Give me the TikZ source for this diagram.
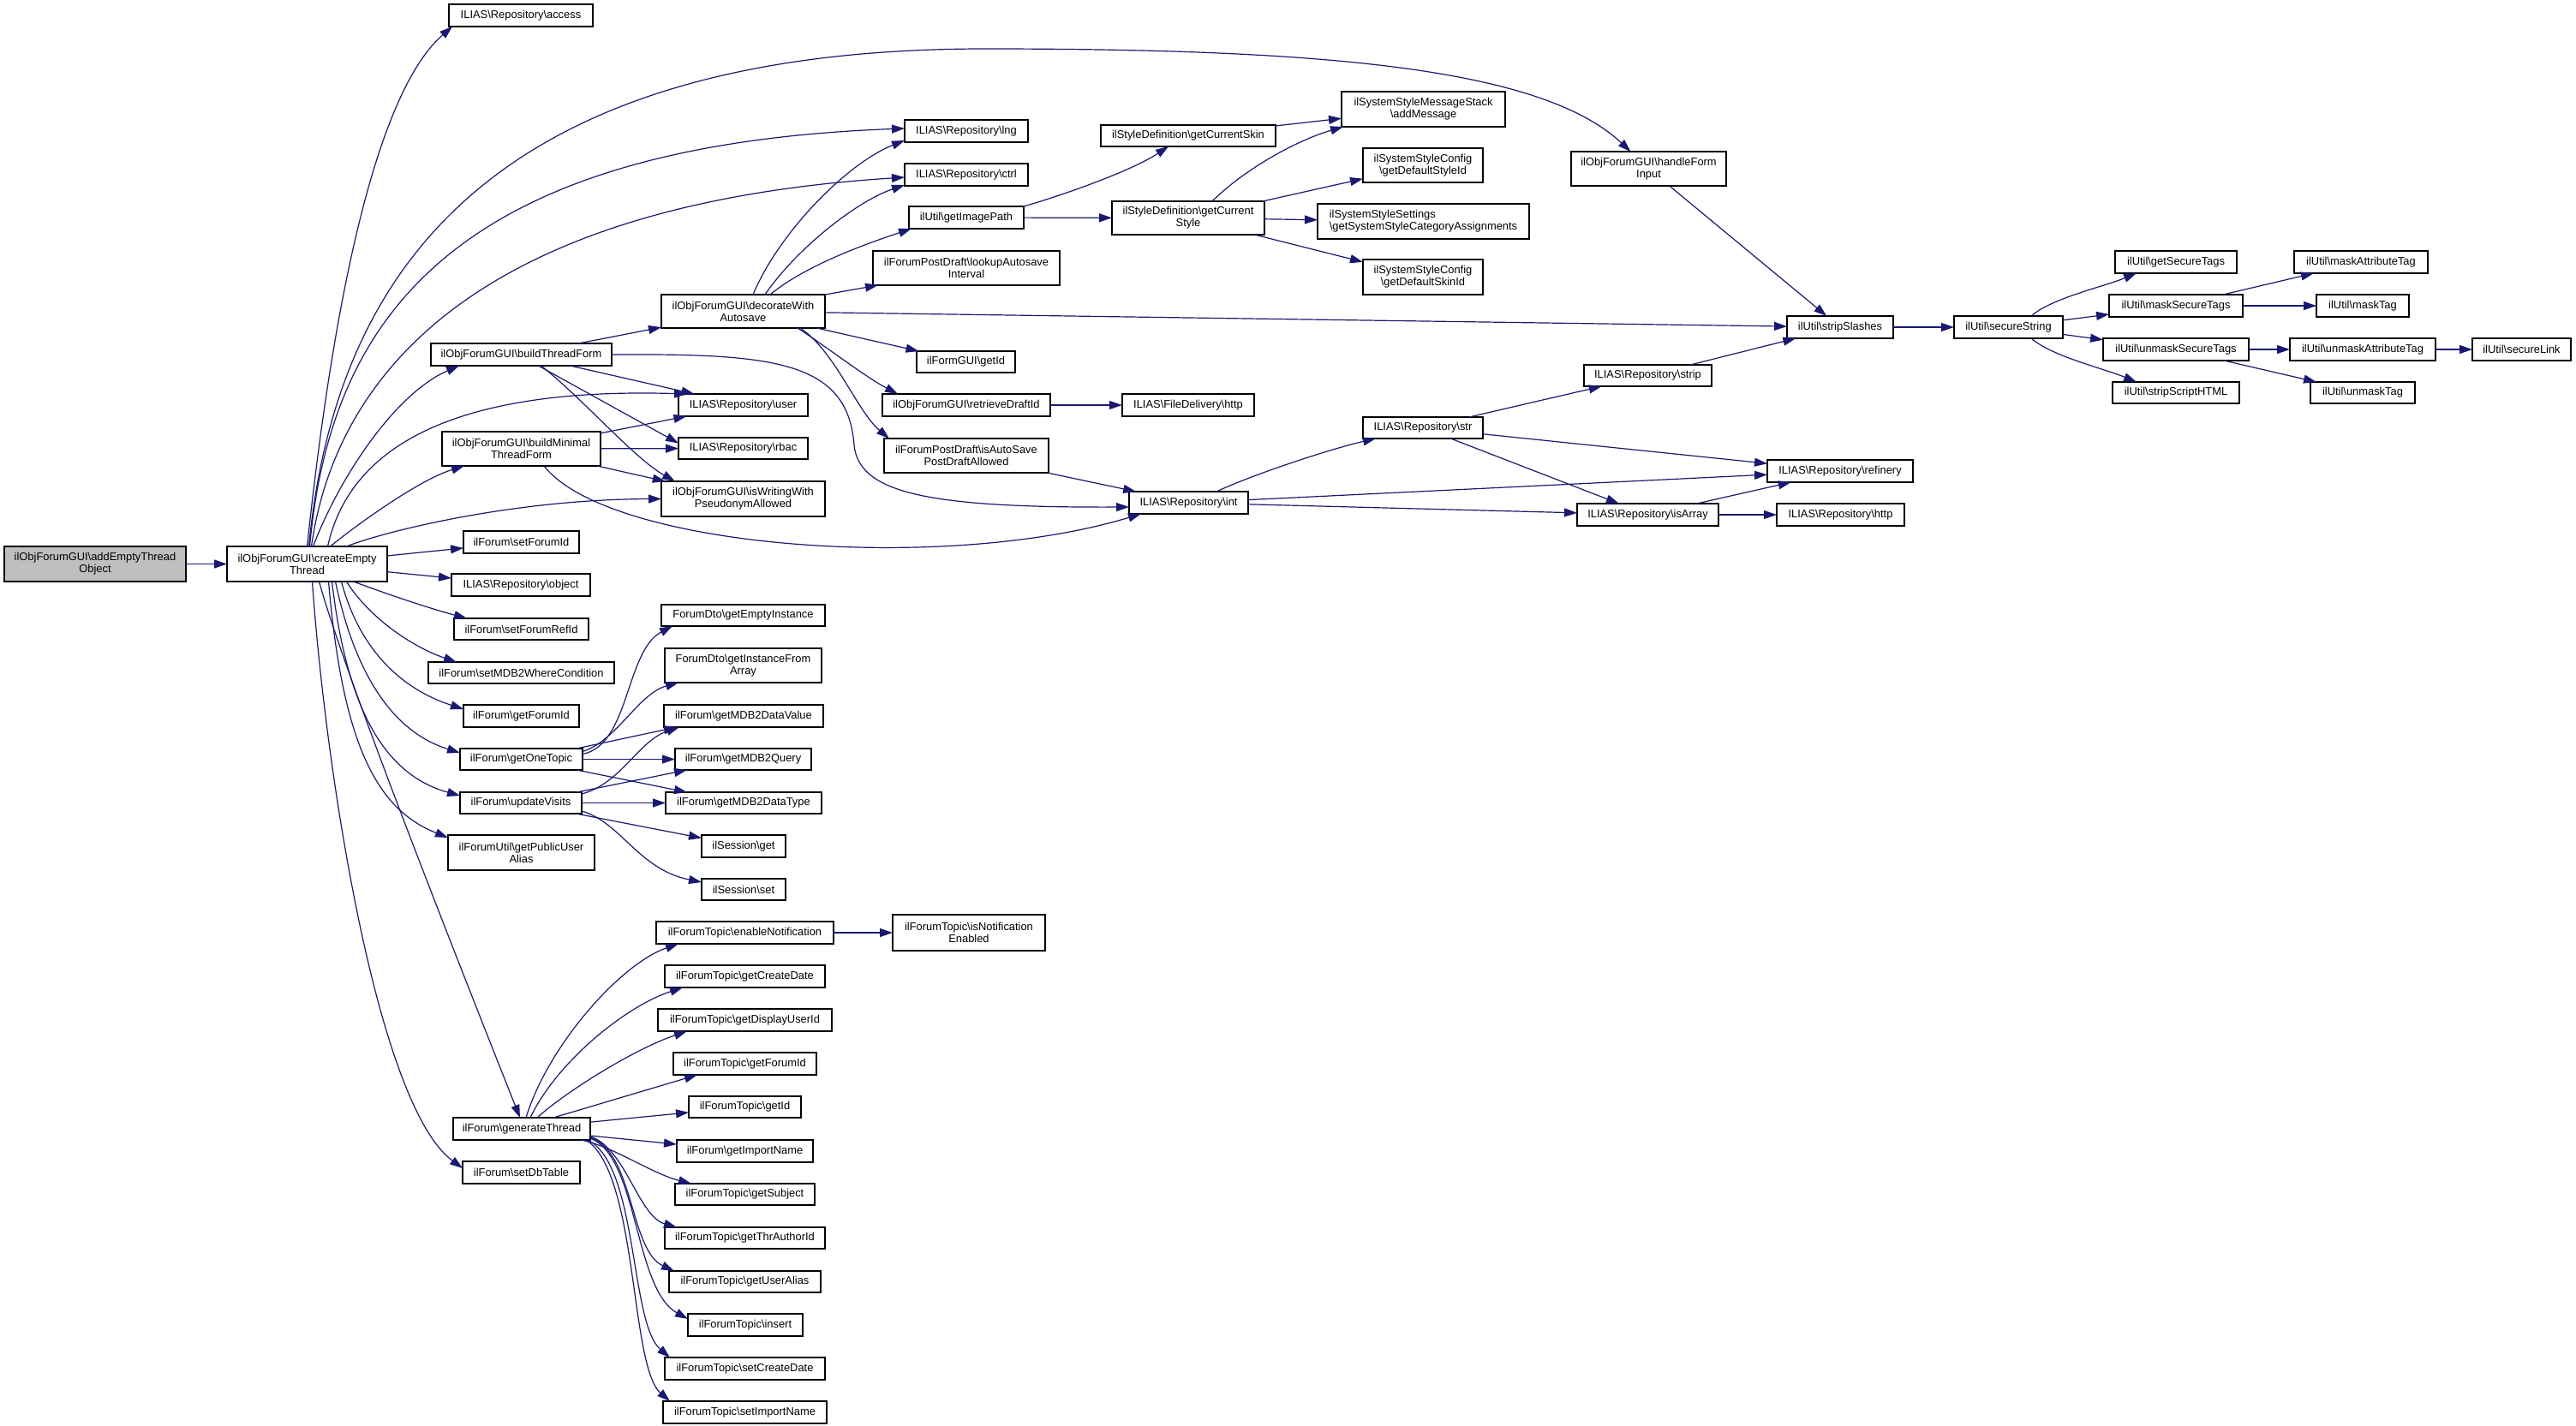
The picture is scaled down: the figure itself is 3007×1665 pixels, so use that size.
\documentclass[tikz,border=0pt]{standalone}
\usepackage{fontspec}
\setmainfont{Liberation Sans}
\usetikzlibrary{arrows.meta}
\definecolor{edgeblue}{HTML}{191970}
\definecolor{rootgrey}{HTML}{BFBFBF}
\newcommand\bsl{\textbackslash}
\newcommand\gnode[7][]{\node[box,#1,minimum width={(#5)-(#3)},minimum height={(#6)-(#4)}] (#2) at ({((#3)+(#5))/2},{((#4)+(#6))/2}) {#7};}
\begin{document}
\begin{tikzpicture}[x=1pt,y=-1pt,
  box/.style={draw=black,line width=1.3pt,fill=white,rectangle,inner sep=0pt,outer sep=0pt,
    font=\fontsize{12.9}{14}\selectfont,align=center,text=black},
  e/.style={draw=edgeblue,line width=1.2pt,-{Triangle[length=15pt,width=10pt]}}]
\useasboundingbox (0,0) rectangle (3007,1665);
% ---------------- nodes ----------------
\gnode[fill=rootgrey]{root}{5}{638}{217}{679}{ilObjForumGUI\bsl addEmptyThread\\Object}
\gnode{cE}{265}{638}{452}{679}{ilObjForumGUI\bsl createEmpty\\Thread}
\gnode{access}{524}{5}{692}{31}{ILIAS\bsl Repository\bsl access}
\gnode{bTF}{503}{401}{714}{427}{ilObjForumGUI\bsl buildThreadForm}
\gnode{bMT}{516}{504}{701}{544}{ilObjForumGUI\bsl buildMinimal\\ThreadForm}
\gnode{setForumId}{541}{620}{676}{646}{ilForum\bsl setForumId}
\gnode{object}{527}{670}{689}{696}{ILIAS\bsl Repository\bsl object}
\gnode{setForumRefId}{530}{722}{687}{747}{ilForum\bsl setForumRefId}
\gnode{setMDB}{500}{773}{717}{798}{ilForum\bsl setMDB2WhereCondition}
\gnode{getForumId}{541}{823}{676}{849}{ilForum\bsl getForumId}
\gnode{gOT}{537}{874}{680}{899}{ilForum\bsl getOneTopic}
\gnode{uV}{537}{925}{679}{950}{ilForum\bsl updateVisits}
\gnode{getPUA}{523}{975}{694}{1016}{ilForumUtil\bsl getPublicUser\\Alias}
\gnode{gT}{529}{1305}{689}{1331}{ilForum\bsl generateThread}
\gnode{setDbTable}{540}{1356}{677}{1382}{ilForum\bsl setDbTable}
%
\gnode{decorate}{772}{344}{963}{383}{ilObjForumGUI\bsl decorateWith\\Autosave}
\gnode{user}{792}{460}{943}{486}{ILIAS\bsl Repository\bsl user}
\gnode{rbac}{792}{511}{943}{536}{ILIAS\bsl Repository\bsl rbac}
\gnode{isW}{772}{562}{963}{603}{ilObjForumGUI\bsl isWritingWith\\PseudonymAllowed}
\gnode{getEmptyInstance}{772}{706}{963}{731}{ForumDto\bsl getEmptyInstance}
\gnode{getInstFromArray}{776}{757}{959}{797}{ForumDto\bsl getInstanceFrom\\Array}
\gnode{dataValue}{775}{823}{961}{849}{ilForum\bsl getMDB2DataValue}
\gnode{mdbQuery}{788}{874}{947}{899}{ilForum\bsl getMDB2Query}
\gnode{dataType}{777}{925}{959}{950}{ilForum\bsl getMDB2DataType}
\gnode{sessGet}{819}{975}{917}{1001}{ilSession\bsl get}
\gnode{sessSet}{819}{1026}{917}{1051}{ilSession\bsl set}
\gnode{enableNotif}{766}{1076}{973}{1102}{ilForumTopic\bsl enableNotification}
\gnode{getCreateDate}{776}{1127}{963}{1153}{ilForumTopic\bsl getCreateDate}
\gnode{getDisplayUserId}{768}{1178}{971}{1204}{ilForumTopic\bsl getDisplayUserId}
\gnode{tGetForumId}{786}{1229}{953}{1255}{ilForumTopic\bsl getForumId}
\gnode{tGetId}{804}{1280}{935}{1305}{ilForumTopic\bsl getId}
\gnode{getImportName}{790}{1331}{949}{1357}{ilForum\bsl getImportName}
\gnode{getSubject}{788}{1382}{951}{1407}{ilForumTopic\bsl getSubject}
\gnode{getThrAuthorId}{776}{1433}{963}{1458}{ilForumTopic\bsl getThrAuthorId}
\gnode{getUserAlias}{781}{1484}{958}{1509}{ilForumTopic\bsl getUserAlias}
\gnode{insert}{803}{1534}{937}{1560}{ilForumTopic\bsl insert}
\gnode{setCreateDate}{776}{1585}{963}{1611}{ilForumTopic\bsl setCreateDate}
\gnode{setImportName}{774}{1636}{965}{1662}{ilForumTopic\bsl setImportName}
%
\gnode{lng}{1056}{140}{1200}{166}{ILIAS\bsl Repository\bsl lng}
\gnode{ctrl}{1056}{191}{1200}{217}{ILIAS\bsl Repository\bsl ctrl}
\gnode{getImagePath}{1061}{241}{1195}{267}{ilUtil\bsl getImagePath}
\gnode{lookupAutosave}{1019}{293}{1237}{333}{ilForumPostDraft\bsl lookupAutosave\\Interval}
\gnode{formGetId}{1070}{410}{1185}{435}{ilFormGUI\bsl getId}
\gnode{retrieveDraftId}{1030}{460}{1226}{486}{ilObjForumGUI\bsl retrieveDraftId}
\gnode{isAutoSave}{1032}{512}{1224}{552}{ilForumPostDraft\bsl isAutoSave\\PostDraftAllowed}
\gnode{isNotifEnabled}{1042}{1068}{1220}{1110}{ilForumTopic\bsl isNotification\\Enabled}
%
\gnode{getCurrentSkin}{1285}{146}{1489}{171}{ilStyleDefinition\bsl getCurrentSkin}
\gnode{getCurrentStyle}{1298}{235}{1476}{274}{ilStyleDefinition\bsl getCurrent\\Style}
\gnode{fileHttp}{1310}{460}{1464}{486}{ILIAS\bsl FileDelivery\bsl http}
\gnode{int}{1318}{574}{1457}{600}{ILIAS\bsl Repository\bsl int}
%
\gnode{addMessage}{1566}{107}{1757}{148}{ilSystemStyleMessageStack\\\bsl addMessage}
\gnode{defStyleId}{1591}{173}{1731}{213}{ilSystemStyleConfig\\\bsl getDefaultStyleId}
\gnode[align=left]{catAssign}{1538}{238}{1785}{279}{ilSystemStyleSettings\\\bsl getSystemStyleCategoryAssignments}
\gnode{defSkinId}{1591}{303}{1731}{344}{ilSystemStyleConfig\\\bsl getDefaultSkinId}
\gnode{str}{1591}{487}{1731}{512}{ILIAS\bsl Repository\bsl str}
%
\gnode{hFI}{1834}{177}{2015}{217}{ilObjForumGUI\bsl handleForm\\Input}
\gnode{strip}{1849}{426}{1998}{451}{ILIAS\bsl Repository\bsl strip}
\gnode{isArray}{1841}{588}{2006}{614}{ILIAS\bsl Repository\bsl isArray}
\gnode{stripSlashes}{2086}{369}{2210}{395}{ilUtil\bsl stripSlashes}
\gnode{refinery}{2063}{537}{2233}{563}{ILIAS\bsl Repository\bsl refinery}
\gnode{repoHttp}{2074}{588}{2223}{614}{ILIAS\bsl Repository\bsl http}
\gnode{secureString}{2281}{369}{2408}{395}{ilUtil\bsl secureString}
\gnode{getSecureTags}{2469}{293}{2611}{319}{ilUtil\bsl getSecureTags}
\gnode{maskSecureTags}{2462}{344}{2618}{370}{ilUtil\bsl maskSecureTags}
\gnode{unmaskSecureTags}{2455}{395}{2625}{421}{ilUtil\bsl unmaskSecureTags}
\gnode{stripScriptHTML}{2466}{446}{2614}{471}{ilUtil\bsl stripScriptHTML}
\gnode{maskAttributeTag}{2678}{293}{2834}{319}{ilUtil\bsl maskAttributeTag}
\gnode{maskTag}{2704}{344}{2812}{370}{ilUtil\bsl maskTag}
\gnode{unmaskAttributeTag}{2673}{395}{2843}{421}{ilUtil\bsl unmaskAttributeTag}
\gnode{unmaskTag}{2697}{446}{2819}{471}{ilUtil\bsl unmaskTag}
\gnode{secureLink}{2886}{395}{3001}{421}{ilUtil\bsl secureLink}
% ---------------- edges ----------------
\draw[e] (root) -- (cE);
% createEmptyThread
\draw[e] (cE.north) .. controls (400,250) and (460,90) .. ([shift={(4,0)}]access.south west);
\draw[e] ([shift={(2,0)}]cE.north) .. controls (390,330) and (560,57) .. (1150,57)
   .. controls (1550,57) and (1800,80) .. ([shift={(-21,0)}]hFI.north);
\draw[e] ([shift={(3,0)}]cE.north) .. controls (385,380) and (520,170) .. ([shift={(0,-3)}]lng.west);
\draw[e] ([shift={(5,0)}]cE.north) .. controls (390,450) and (540,240) .. ([shift={(0,3)}]ctrl.west);
\draw[e] ([shift={(7,0)}]cE.north) .. controls (395,560) and (460,460) .. ([shift={(33,0)}]bTF.south west);
\draw[e] ([shift={(24,0)}]cE.north) .. controls (400,560) and (470,450) .. ([shift={(10,0)}]user.north west);
\draw[e] ([shift={(27,0)}]cE.north) .. controls (420,610) and (490,560) .. ([shift={(26,0)}]bMT.south west);
\draw[e] ([shift={(46,0)}]cE.north) .. controls (450,620) and (600,583) .. (isW.west);
\draw[e] (cE) -- (setForumId);
\draw[e] (cE) -- (object);
\draw[e] ([shift={(54,0)}]cE.south) .. controls (450,693) and (500,710) .. ([shift={(15,0)}]setForumRefId.north west);
\draw[e] ([shift={(46,0)}]cE.south) .. controls (430,720) and (480,755) .. ([shift={(33,0)}]setMDB.north west);
\draw[e] ([shift={(40,0)}]cE.south) .. controls (420,760) and (470,805) .. ([shift={(0,5)}]getForumId.north west);
\draw[e] ([shift={(33,0)}]cE.south) .. controls (415,790) and (460,855) .. ([shift={(0,5)}]gOT.north west);
\draw[e] ([shift={(29,0)}]cE.south) .. controls (405,830) and (450,905) .. ([shift={(0,4)}]uV.north west);
\draw[e] ([shift={(25,0)}]cE.south) .. controls (400,870) and (440,945) .. ([shift={(0,3)}]getPUA.north west);
\draw[e] ([shift={(14,0)}]cE.south) .. controls (395,760) and (470,960) .. ([shift={(-2,0)}]gT.north);
\draw[e] ([shift={(6,0)}]cE.south) .. controls (380,900) and (440,1290) .. ([shift={(0,-5)}]setDbTable.west);
% buildThreadForm
\draw[e] (bTF) -- (decorate);
\draw[e] (bTF) -- (user);
\draw[e] ([shift={(20,0)}]bTF.south) -- ([shift={(0,-6)}]rbac.west);
\draw[e] ([shift={(23,0)}]bTF.south) .. controls (680,465) and (740,535) .. ([shift={(16,0)}]isW.north west);
\draw[e] (bTF.east) .. controls (900,413) and (990,420) .. (997,520)
   .. controls (1003,575) and (1080,593) .. ([shift={(0,5)}]int.west);
% buildMinimalThreadForm
\draw[e] (bMT) -- (user);
\draw[e] (bMT) -- (rbac);
\draw[e] (bMT) -- (isW);
\draw[e] ([shift={(26.5,0)}]bMT.south) .. controls (710,640) and (1100,670) .. ([shift={(14,0)}]int.south west);
% decorateWithAutosave
\draw[e] ([shift={(11.5,0)}]decorate.north) .. controls (910,270) and (990,190) .. ([shift={(0,-2)}]lng.south west);
\draw[e] ([shift={(25.5,0)}]decorate.north) .. controls (930,290) and (1000,235) .. ([shift={(0,-1)}]ctrl.south west);
\draw[e] ([shift={(31.5,0)}]decorate.north) .. controls (940,310) and (1010,285) .. ([shift={(3,0)}]getImagePath.south west);
\draw[e] (decorate.north east) -- ([shift={(6,0)}]lookupAutosave.south west);
\draw[e] (decorate) -- (stripSlashes);
\draw[e] (decorate) -- (formGetId);
\draw[e] ([shift={(63.5,0)}]decorate.south) .. controls (965,405) and (1010,440) .. ([shift={(18,0)}]retrieveDraftId.north west);
\draw[e] ([shift={(66.5,0)}]decorate.south) .. controls (975,410) and (1000,480) .. ([shift={(6,0)}]isAutoSave.north west);
% style chain
\draw[e] (getImagePath.north east) .. controls (1240,228) and (1320,200) .. ([shift={(-23,0)}]getCurrentSkin.south);
\draw[e] (getImagePath) -- (getCurrentStyle);
\draw[e] (getCurrentSkin) -- (addMessage);
\draw[e] ([shift={(28,0)}]getCurrentStyle.north) .. controls (1450,200) and (1510,165) .. ([shift={(2,0)}]addMessage.south west);
\draw[e] (getCurrentStyle) -- (defStyleId);
\draw[e] (getCurrentStyle) -- (catAssign);
\draw[e] (getCurrentStyle) -- (defSkinId);
\draw[e] (hFI) -- (stripSlashes);
\draw[e] (retrieveDraftId) -- (fileHttp);
\draw[e] (isAutoSave) -- (int);
% repository
\draw[e] ([shift={(32.5,0)}]int.north) .. controls (1460,555) and (1550,525) .. ([shift={(15,0)}]str.south west);
\draw[e] (int) -- (refinery);
\draw[e] (int) -- (isArray);
\draw[e] (str) -- (strip);
\draw[e] (str) -- (refinery);
\draw[e] (str) -- (isArray);
\draw[e] (strip) -- (stripSlashes);
\draw[e] (isArray) -- (refinery);
\draw[e] (isArray) -- (repoHttp);
% ilUtil
\draw[e] (stripSlashes) -- (secureString);
\draw[e] ([shift={(26.5,0)}]secureString.north) .. controls (2395,348) and (2455,335) .. ([shift={(25,0)}]getSecureTags.south west);
\draw[e] (secureString) -- (maskSecureTags);
\draw[e] (secureString) -- (unmaskSecureTags);
\draw[e] ([shift={(26.5,0)}]secureString.south) .. controls (2395,416) and (2455,430) .. ([shift={(28,0)}]stripScriptHTML.north west);
\draw[e] (maskSecureTags) -- (maskAttributeTag);
\draw[e] (maskSecureTags) -- (maskTag);
\draw[e] (unmaskSecureTags) -- (unmaskAttributeTag);
\draw[e] (unmaskSecureTags) -- (unmaskTag);
\draw[e] (unmaskAttributeTag) -- (secureLink);
% getOneTopic
\draw[e] ([shift={(0,-6)}]gOT.east) .. controls (735,870) and (730,760) .. ([shift={(13,0)}]getEmptyInstance.south west);
\draw[e] ([shift={(0,-9)}]gOT.east) .. controls (720,865) and (745,810) .. ([shift={(16,0)}]getInstFromArray.south west);
\draw[e] ([shift={(-7,0)}]gOT.north east) -- ([shift={(15,0)}]dataValue.south west);
\draw[e] (gOT) -- (mdbQuery);
\draw[e] ([shift={(-7,0)}]gOT.south east) -- ([shift={(25,0)}]dataType.north west);
% updateVisits
\draw[e] ([shift={(0,2)}]uV.north east) .. controls (725,915) and (745,865) .. ([shift={(18,0)}]dataValue.south west);
\draw[e] ([shift={(-6,0)}]uV.north east) -- ([shift={(14,0)}]mdbQuery.south west);
\draw[e] (uV) -- (dataType);
\draw[e] (uV) -- (sessGet);
\draw[e] ([shift={(0,9.5)}]uV.east) .. controls (725,960) and (745,1015) .. ([shift={(0,-8.5)}]sessSet.west);
% generateThread
\draw[e] ([shift={(5,0)}]gT.north) .. controls (640,1220) and (725,1125) .. ([shift={(26,0)}]enableNotif.south west);
\draw[e] ([shift={(10,0)}]gT.north) .. controls (650,1240) and (730,1175) .. ([shift={(21,0)}]getCreateDate.south west);
\draw[e] ([shift={(18,0)}]gT.north) .. controls (660,1275) and (740,1225) .. ([shift={(34,0)}]getDisplayUserId.south west);
\draw[e] ([shift={(37,0)}]gT.north) -- ([shift={(28,0)}]tGetForumId.south west);
\draw[e] (gT) -- (tGetId);
\draw[e] (gT) -- (getImportName);
\draw[e] ([shift={(-11,0)}]gT.south east) .. controls (715,1338) and (760,1370) .. ([shift={(19,0)}]getSubject.north west);
\draw[e] ([shift={(0,9)}]gT.east) .. controls (730,1340) and (745,1420) .. ([shift={(14,0)}]getThrAuthorId.north west);
\draw[e] ([shift={(0,10)}]gT.east) .. controls (740,1345) and (735,1460) .. ([shift={(6,0)}]getUserAlias.north west);
\draw[e] ([shift={(0,11)}]gT.east) .. controls (745,1350) and (740,1505) .. ([shift={(0,-7)}]insert.west);
\draw[e] ([shift={(-3,0)}]gT.south east) .. controls (745,1360) and (735,1545) .. ([shift={(6,0)}]setCreateDate.north west);
\draw[e] ([shift={(-5,0)}]gT.south east) .. controls (745,1370) and (735,1595) .. ([shift={(8,0)}]setImportName.north west);
\draw[e] (enableNotif) -- (isNotifEnabled);
\end{tikzpicture}
\end{document}
